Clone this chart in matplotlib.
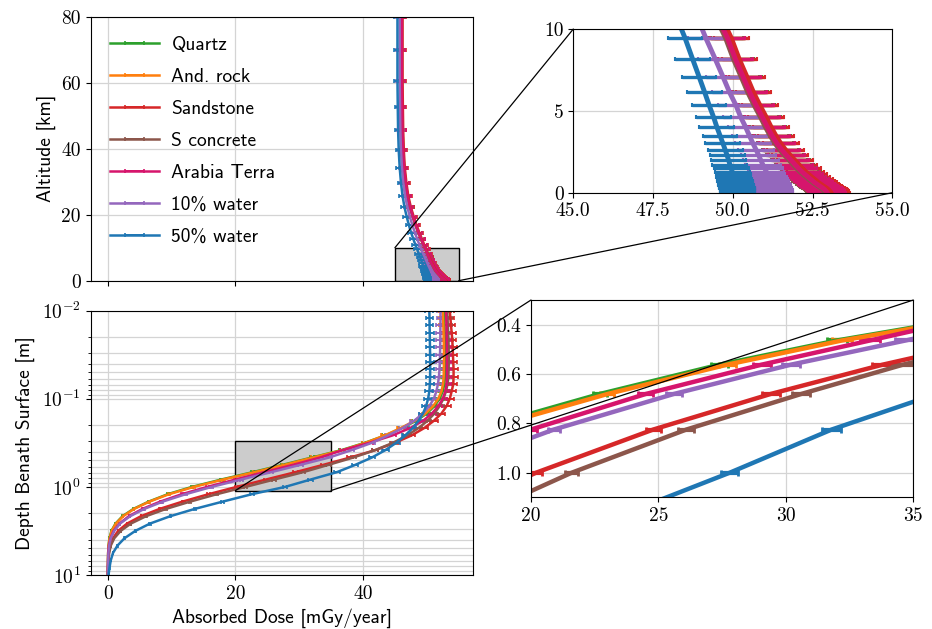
import numpy as np
import matplotlib
matplotlib.use('Agg')
import matplotlib.pyplot as plt
from matplotlib.patches import Rectangle, ConnectionPatch
from matplotlib.ticker import MultipleLocator

plt.rcParams['font.family'] = 'serif'
plt.rcParams['font.serif'] = ['cmr10', 'DejaVu Serif']
plt.rcParams['mathtext.fontset'] = 'cm'
plt.rcParams['axes.unicode_minus'] = False
plt.rcParams['xtick.labelsize'] = 14
plt.rcParams['ytick.labelsize'] = 14

SANS = ['cmss10', 'DejaVu Sans']

names = ['Quartz', 'And. rock', 'Sandstone', 'S concrete', 'Arabia Terra',
         '10% water', '50% water']
colors = ['#2ca02c', '#ff7f0e', '#d62728', '#8c564b', '#d6156c',
          '#9467bd', '#1f77b4']

# altitude profile [km] and dose [mGy/year]
altitude = [80, 69.9, 60.6, 52.6, 45.6, 39.5, 34.3, 29.7, 25.7, 22.3, 19.4, 16.8,
            14.5, 12.6, 10.9, 9.47, 8.17, 7.05, 6.13, 5.34, 4.61, 4.02, 3.49, 3.02,
            2.63, 2.29, 1.98, 1.72, 1.49, 1.29, 1.12, 0.97, 0.84, 0.73, 0.63, 0.55,
            0.48, 0.41, 0.36, 0.31, 0.27, 0.2, 0.14, 0.08, 0.03, 0.0]

alt_quartz = [46.1, 46.1, 46.1, 46.15, 46.2, 46.3, 46.45, 46.7, 47.0, 47.4, 47.85, 48.3,
              48.75, 49.15, 49.5, 49.85, 50.1, 50.35, 50.55, 50.75, 50.95, 51.1, 51.25,
              51.4, 51.55, 51.7, 51.85, 51.97, 52.08, 52.18, 52.28, 52.37, 52.45, 52.52,
              52.58, 52.64, 52.69, 52.74, 52.78, 52.82, 52.85, 52.89, 52.92, 52.95,
              52.97, 52.98]
alt_androck = [46.07, 46.07, 46.07, 46.12, 46.17, 46.27, 46.42, 46.67, 46.97, 47.37,
               47.82, 48.27, 48.72, 49.12, 49.47, 49.82, 50.07, 50.32, 50.52, 50.72,
               50.92, 51.07, 51.22, 51.37, 51.52, 51.67, 51.82, 51.94, 52.05, 52.15,
               52.25, 52.34, 52.42, 52.49, 52.55, 52.61, 52.66, 52.71, 52.75, 52.79,
               52.82, 52.86, 52.89, 52.92, 52.94, 52.95]
alt_sandstone = [46.2, 46.2, 46.2, 46.25, 46.3, 46.4, 46.55, 46.8, 47.1, 47.5, 47.95,
                 48.4, 48.85, 49.25, 49.6, 49.95, 50.2, 50.45, 50.65, 50.85, 51.05,
                 51.2, 51.35, 51.5, 51.65, 51.8, 51.95, 52.07, 52.18, 52.28, 52.38,
                 52.47, 52.55, 52.62, 52.68, 52.74, 52.79, 52.84, 52.88, 52.92, 52.95,
                 52.99, 53.02, 53.05, 53.07, 53.08]
alt_sconcrete = [46.02, 46.02, 46.02, 46.07, 46.12, 46.22, 46.37, 46.62, 46.92, 47.32,
                 47.77, 48.22, 48.67, 49.07, 49.42, 49.77, 50.02, 50.27, 50.47, 50.67,
                 50.87, 51.02, 51.17, 51.32, 51.47, 51.62, 51.77, 51.89, 52.0, 52.1,
                 52.2, 52.29, 52.37, 52.44, 52.5, 52.56, 52.61, 52.66, 52.7, 52.74,
                 52.77, 52.81, 52.84, 52.87, 52.89, 52.9]
alt_arabia = [46.08, 46.08, 46.08, 46.13, 46.18, 46.28, 46.43, 46.68, 46.98, 47.38,
              47.83, 48.28, 48.73, 49.13, 49.48, 49.83, 50.08, 50.33, 50.53, 50.73,
              50.93, 51.08, 51.23, 51.38, 51.53, 51.68, 51.83, 51.95, 52.06, 52.16,
              52.26, 52.35, 52.43, 52.5, 52.56, 52.62, 52.67, 52.72, 52.76, 52.8,
              52.83, 52.87, 52.9, 52.93, 52.95, 52.96]
alt_water10 = [45.75, 45.75, 45.75, 45.8, 45.85, 45.95, 46.1, 46.3, 46.6, 46.95, 47.35,
               47.75, 48.15, 48.5, 48.85, 49.15, 49.45, 49.7, 49.9, 50.1, 50.25, 50.4,
               50.52, 50.63, 50.73, 50.81, 50.88, 50.94, 51.0, 51.05, 51.09, 51.13,
               51.16, 51.19, 51.21, 51.23, 51.25, 51.26, 51.27, 51.28, 51.29, 51.3,
               51.31, 51.32, 51.32, 51.33]
alt_water50 = [45.4, 45.4, 45.4, 45.45, 45.5, 45.6, 45.75, 45.95, 46.2, 46.5, 46.85, 47.2,
               47.55, 47.9, 48.2, 48.5, 48.74, 48.95, 49.12, 49.26, 49.4, 49.5, 49.6,
               49.69, 49.76, 49.82, 49.87, 49.91, 49.95, 49.98, 50.01, 50.03, 50.05,
               50.07, 50.08, 50.09, 50.1, 50.11, 50.12, 50.13, 50.13, 50.14, 50.15,
               50.15, 50.16, 50.16]

# subsurface profile [m] and dose [mGy/year]
depth = [0.01, 0.0121, 0.0147, 0.0178, 0.0215, 0.0261, 0.0316, 0.0383, 0.0464, 0.0562,
         0.0681, 0.0825, 0.1, 0.121, 0.147, 0.178, 0.215, 0.261, 0.316, 0.383, 0.464,
         0.562, 0.681, 0.825, 1.0, 1.21, 1.47, 1.78, 2.15, 2.61, 3.16, 3.83, 4.64,
         5.62, 6.81, 8.25, 10.0]

dep_quartz = [52.65, 52.7, 52.75, 52.8, 52.82, 52.85, 52.87, 52.87, 52.86, 52.85, 52.75,
              52.5, 52.0, 51.2, 50.0, 48.3, 46.1, 43.5, 40.3, 36.6, 32.0, 27.4, 22.7,
              17.8, 13.2, 9.4, 6.4, 4.0, 2.3, 1.2, 0.55, 0.25, 0.1, 0.04, 0.02, 0.01, 0.0]
dep_androck = [52.5, 52.55, 52.6, 52.63, 52.66, 52.68, 52.7, 52.7, 52.68, 52.65, 52.55,
               52.3, 51.8, 51.0, 49.8, 48.1, 45.9, 43.4, 40.4, 36.8, 32.2, 27.7, 23.0,
               18.1, 13.5, 9.6, 6.5, 4.1, 2.4, 1.25, 0.6, 0.27, 0.1, 0.04, 0.01, 0.0, 0.0]
dep_sandstone = [53.6, 53.7, 53.8, 53.9, 54.0, 54.05, 54.1, 54.15, 54.2, 54.2, 54.15,
                 53.9, 53.6, 53.1, 52.3, 51.1, 49.6, 47.6, 45.0, 41.9, 38.0, 33.8, 29.4,
                 24.8, 20.2, 15.8, 11.7, 8.1, 5.2, 3.0, 1.6, 0.8, 0.35, 0.15, 0.06, 0.02,
                 0.0]
dep_sconcrete = [53.2, 53.25, 53.3, 53.35, 53.4, 53.42, 53.45, 53.45, 53.42, 53.38, 53.25,
                 53.0, 52.6, 52.0, 51.2, 50.1, 48.7, 46.9, 44.7, 41.9, 38.5, 34.6, 30.6,
                 26.1, 21.6, 17.1, 12.9, 9.1, 6.0, 3.6, 2.0, 1.0, 0.45, 0.2, 0.08, 0.03,
                 0.0]
dep_arabia = [53.0, 53.05, 53.08, 53.1, 53.12, 53.14, 53.15, 53.15, 53.15, 53.15, 53.1,
              52.9, 52.5, 51.8, 50.8, 49.4, 47.4, 44.6, 41.0, 36.8, 33.3, 29.05, 24.5,
              20.0, 15.6, 11.6, 8.2, 5.4, 3.3, 1.8, 0.9, 0.4, 0.15, 0.05, 0.02, 0.0, 0.0]
dep_water10 = [52.15, 52.15, 52.14, 52.13, 52.12, 52.1, 52.08, 52.05, 52.0, 51.9, 51.75,
               51.5, 51.1, 50.4, 49.4, 48.0, 46.2, 43.9, 41.4, 38.2, 34.7, 30.2, 25.6,
               20.9, 16.3, 12.2, 8.6, 5.7, 3.5, 1.9, 1.0, 0.45, 0.2, 0.08, 0.03, 0.01, 0.0]
dep_water50 = [50.4, 50.42, 50.44, 50.46, 50.48, 50.5, 50.52, 50.53, 50.53, 50.52, 50.48,
               50.4, 50.2, 49.9, 49.4, 48.7, 47.8, 46.6, 45.2, 43.5, 41.4, 38.8, 35.9,
               31.8, 27.8, 22.6, 18.0, 13.6, 9.8, 6.6, 4.3, 2.6, 1.5, 0.8, 0.45, 0.25, 0.1]

alt_doses = [alt_quartz, alt_androck, alt_sandstone, alt_sconcrete, alt_arabia,
             alt_water10, alt_water50]
dep_doses = [dep_quartz, dep_androck, dep_sandstone, dep_sconcrete, dep_arabia,
             dep_water10, dep_water50]
# relative 1-sigma uncertainty of each run
alt_relerr = [0.011, 0.011, 0.011, 0.011, 0.011, 0.011, 0.011]
dep_relerr = [0.012, 0.012, 0.012, 0.012, 0.012, 0.012, 0.012]

# zoom windows
alt_zoom_x, alt_zoom_y = (45, 55), (0, 10)
dep_zoom_x, dep_zoom_y = (20, 35), (1.1, 0.3)

fig = plt.figure(figsize=(9.32, 6.29), dpi=100)
ax_alt = fig.add_axes([0.0973, 0.5537, 0.4099, 0.4197])
ax_dep = fig.add_axes([0.0973, 0.0859, 0.4099, 0.4202], sharex=ax_alt)
ins_alt = fig.add_axes([0.6151, 0.6936, 0.3423, 0.2602])
ins_dep = fig.add_axes([0.5697, 0.2093, 0.4102, 0.3137])

for name, c, ad, dd, ra, rd in zip(names, colors, alt_doses, dep_doses,
                                   alt_relerr, dep_relerr):
    ad = np.array(ad)
    dd = np.array(dd)
    ax_alt.errorbar(ad, altitude, xerr=ra * ad, color=c, lw=1.8, elinewidth=1.4,
                    capsize=1.2, capthick=1.2, label=name)
    ins_alt.errorbar(ad, altitude, xerr=ra * ad, color=c, lw=3.5, elinewidth=2.4,
                     capsize=1.5, capthick=1.5)
    ax_dep.errorbar(dd, depth, xerr=rd * dd, color=c, lw=1.8, elinewidth=1.4,
                    capsize=1.2, capthick=1.2)
    ins_dep.errorbar(dd, depth, xerr=rd * dd, color=c, lw=3.2, elinewidth=3,
                     capsize=2, capthick=2)

grid_kw = dict(color='#d4d4d4', lw=0.9)

ax_alt.set_xlim(-2.7, 57.2)
ax_alt.set_ylim(0, 80)
ax_alt.xaxis.set_major_locator(MultipleLocator(20))
ax_alt.yaxis.set_major_locator(MultipleLocator(20))
ax_alt.tick_params(labelbottom=False)
ax_alt.grid(True, **grid_kw)
ax_alt.set_ylabel('Altitude [km]', family=SANS, size=14)
ax_alt.legend(loc='upper left', frameon=False, prop={'family': SANS, 'size': 14},
              handlelength=2.5, handletextpad=0.65, labelspacing=0.72,
              borderaxespad=0.6)

ax_dep.set_yscale('log')
ax_dep.set_ylim(10, 0.01)
ax_dep.grid(True, which='major', **grid_kw)
ax_dep.grid(True, which='minor', axis='y', **grid_kw)
ax_dep.set_ylabel('Depth Benath Surface [m]', family=SANS, size=14, labelpad=5)
ax_dep.set_xlabel('Absorbed Dose [mGy/year]', family=SANS, size=14)

ins_alt.set_xlim(*alt_zoom_x)
ins_alt.set_ylim(*alt_zoom_y)
ins_alt.xaxis.set_major_locator(MultipleLocator(2.5))
ins_alt.yaxis.set_major_locator(MultipleLocator(5))
ins_alt.grid(True, **grid_kw)

ins_dep.set_xlim(*dep_zoom_x)
ins_dep.set_ylim(*dep_zoom_y)
ins_dep.xaxis.set_major_locator(MultipleLocator(5))
ins_dep.yaxis.set_major_locator(MultipleLocator(0.2))
ins_dep.grid(True, **grid_kw)

# zoom boxes and connector lines
ax_alt.add_patch(Rectangle((alt_zoom_x[0], alt_zoom_y[0]), alt_zoom_x[1] - alt_zoom_x[0],
                           alt_zoom_y[1] - alt_zoom_y[0], fc='#cccccc', ec='k', lw=1,
                           zorder=1.6))
ax_dep.add_patch(Rectangle((dep_zoom_x[0], dep_zoom_y[1]), dep_zoom_x[1] - dep_zoom_x[0],
                           dep_zoom_y[0] - dep_zoom_y[1], fc='#cccccc', ec='k', lw=1,
                           zorder=1.6))

links = [(ins_alt, ax_alt, (0, 1), (alt_zoom_x[0], alt_zoom_y[1])),
         (ins_alt, ax_alt, (1, 0), (alt_zoom_x[1], alt_zoom_y[0])),
         (ins_dep, ax_dep, (0, 1), (dep_zoom_x[0], dep_zoom_y[0])),
         (ins_dep, ax_dep, (1, 1), (dep_zoom_x[1], dep_zoom_y[0]))]
for ins, ax, xy_ins, xy_dat in links:
    fig.add_artist(ConnectionPatch(xyA=xy_ins, coordsA=ins.transAxes, xyB=xy_dat,
                                   coordsB=ax.transData, color='k', lw=0.9, zorder=5))

fig.savefig('out.png', dpi=100)
